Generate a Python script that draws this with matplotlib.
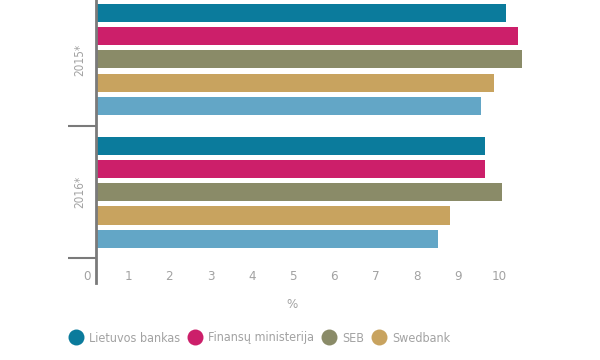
import matplotlib
matplotlib.use('Agg')
import matplotlib.pyplot as plt
from matplotlib.lines import Line2D
from matplotlib.transforms import ScaledTranslation, blended_transform_factory

plt.rcParams['font.family'] = ['DejaVu Sans']
plt.rcParams['font.stretch'] = 'condensed'

groups = ['2015*', '2016*']
series = ['Lietuvos bankas', 'Finansų ministerija', 'SEB', 'Swedbank', '']
colors = ['#0b7b9c', '#cc1f6a', '#8a8b68', '#c8a35f', '#63a6c6']
values = [
    [9.95, 10.25, 10.35, 9.65, 9.35],   # 2015*
    [9.45, 9.45, 9.85, 8.6, 8.3],       # 2016*
]
xticks = list(range(0, 11))

text_col = '#a2a2a2'
axis_col = '#7a7a7a'

fig = plt.figure(figsize=(6, 3.6), dpi=100)
# axes: x 96..600 px, y 0..258 px (from top)
ax = fig.add_axes([96 / 600, (360 - 258) / 360, 504 / 600, 258 / 360])

group_step = 5.73
bar_h = 0.78
for g, vals in enumerate(values):
    for i, v in enumerate(vals):
        ax.barh(g * group_step + i, v, height=bar_h, color=colors[i],
                edgecolor='none')

ax.set_xlim(0, 504 / 41.2)
ax.set_ylim(10.56, -0.56)

for s in ['top', 'right', 'bottom', 'left']:
    ax.spines[s].set_visible(False)

# vertical axis line, extending below the bars
ax.axvline(0, ymin=-25 / 258, ymax=1, color=axis_col, lw=2, clip_on=False)

# group separator ticks
ax.set_yticks([4.87, 10.56])
ax.set_yticklabels([])
ax.tick_params(axis='y', length=20, width=1.5, color=axis_col, direction='out')

# group labels
trans = blended_transform_factory(ax.transAxes, ax.transData)
for g, name in enumerate(groups):
    ax.text(-16 / 504, g * group_step + 2, name, rotation=90, transform=trans,
            ha='center', va='center', color=text_col, fontsize=8.5)

# x ticks
ax.set_xticks(xticks)
ax.set_xticklabels([str(t) for t in xticks])
ax.tick_params(axis='x', length=0, pad=9, labelsize=9.5, labelcolor=text_col)
shift = ScaledTranslation(-9 / 100, 0, fig.dpi_scale_trans)
for lab in ax.get_xticklabels():
    lab.set_transform(lab.get_transform() + shift)

ax.set_xlabel('%', color=text_col, fontsize=9.5)
ax.xaxis.set_label_coords((292 - 96) / 504, -(304 - 258) / 258)
ax.xaxis.label.set_va('center')

handles = [Line2D([], [], marker='o', linestyle='none', markersize=11.5,
                  markerfacecolor=colors[i], markeredgecolor='none',
                  label=series[i]) for i in range(4)]
fig.legend(handles=handles, loc='center', bbox_to_anchor=(260 / 600, 1 - 338 / 360),
           ncol=4, frameon=False, fontsize=9, labelcolor=text_col,
           handletextpad=0.55, columnspacing=0.7, handlelength=1.0)

fig.savefig('out.png', dpi=100)
